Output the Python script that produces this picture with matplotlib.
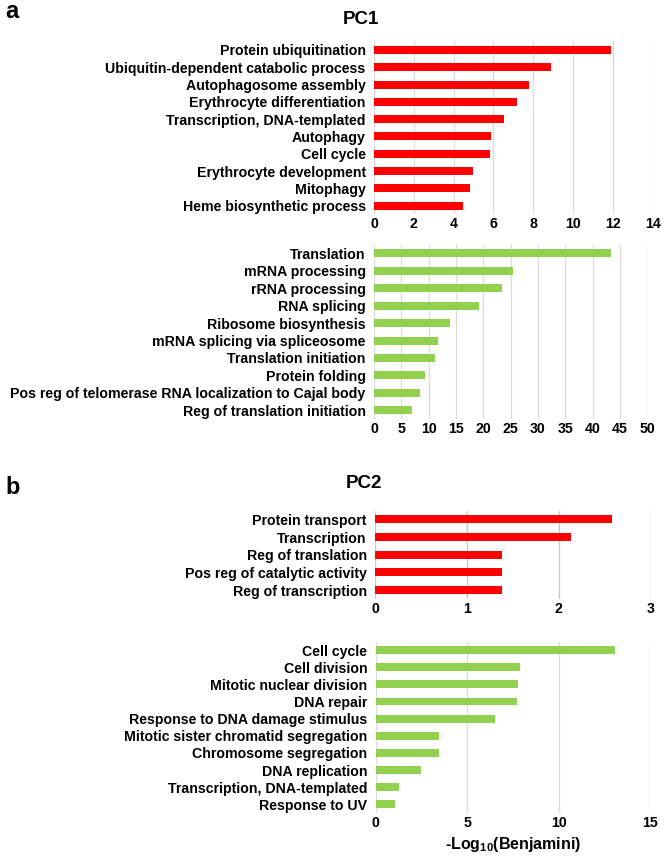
import matplotlib
matplotlib.use("Agg")
import matplotlib.pyplot as plt
import numpy as np

plt.rcParams["font.family"] = ["Liberation Sans", "DejaVu Sans"]
plt.rcParams["font.weight"] = "bold"
plt.rcParams["mathtext.fontset"] = "custom"
plt.rcParams["mathtext.rm"] = "Liberation Sans:bold"
plt.rcParams["mathtext.bf"] = "Liberation Sans:bold"

RED = "#FF0000"
GREEN = "#92D050"

pc1_up_terms = ["Protein ubiquitination", "Ubiquitin-dependent catabolic process",
                "Autophagosome assembly", "Erythrocyte differentiation",
                "Transcription, DNA-templated", "Autophagy", "Cell cycle",
                "Erythrocyte development", "Mitophagy", "Heme biosynthetic process"]
pc1_up_vals = [11.9, 8.9, 7.8, 7.2, 6.55, 5.9, 5.85, 4.95, 4.8, 4.45]

pc1_down_terms = ["Translation", "mRNA processing", "rRNA processing", "RNA splicing",
                  "Ribosome biosynthesis", "mRNA splicing via spliceosome",
                  "Translation initiation", "Protein folding",
                  "Pos reg of telomerase RNA localization to Cajal body",
                  "Reg of translation initiation"]
pc1_down_vals = [43.3, 25.4, 23.4, 19.2, 13.9, 11.7, 11.1, 9.3, 8.45, 6.95]

pc2_up_terms = ["Protein transport", "Transcription", "Reg of translation",
                "Pos reg of catalytic activity", "Reg of transcription"]
pc2_up_vals = [2.58, 2.13, 1.38, 1.38, 1.38]

pc2_down_terms = ["Cell cycle", "Cell division", "Mitotic nuclear division", "DNA repair",
                  "Response to DNA damage stimulus", "Mitotic sister chromatid segregation",
                  "Chromosome segregation", "DNA replication",
                  "Transcription, DNA-templated", "Response to UV"]
pc2_down_vals = [13.1, 7.9, 7.8, 7.75, 6.55, 3.45, 3.45, 2.45, 1.3, 1.08]

W, H = 666, 857
fig = plt.figure(figsize=(W / 100, H / 100), dpi=100)


def add_panel(box, terms, vals, color, ticks, grid_color="#DDDDDD"):
    x0, y0, x1, y1 = box
    ax = fig.add_axes([x0 / W, 1 - y1 / H, (x1 - x0) / W, (y1 - y0) / H])
    pos = np.arange(len(terms))
    ax.barh(pos, vals, height=0.46, color=color, zorder=3)
    ax.set_ylim(len(terms) - 0.5, -0.5)
    ax.set_xlim(ticks[0], ticks[-1])
    ax.set_xticks(ticks)
    ax.set_xticklabels([str(t) for t in ticks], fontsize=10.2, fontweight="bold")
    ax.set_yticks(pos)
    ax.set_yticklabels(terms, fontsize=10.2, fontweight="bold")
    ax.tick_params(length=0, axis="y", pad=6)
    ax.tick_params(length=0, axis="x", pad=2)
    for s in ax.spines.values():
        s.set_visible(False)
    ax.grid(axis="x", color=grid_color, linewidth=1, zorder=0)
    return ax


add_panel((374, 41.3, 652.7, 214.3), pc1_up_terms, pc1_up_vals, RED, list(range(0, 15, 2)))
add_panel((374, 244.6, 647.3, 419.0), pc1_down_terms, pc1_down_vals, GREEN, list(range(0, 51, 5)))
add_panel((375, 510.5, 650.7, 598.9), pc2_up_terms, pc2_up_vals, RED, [0, 1, 2, 3], grid_color="#C8C8C8")
ax4 = add_panel((375.7, 641.6, 650, 812.9), pc2_down_terms, pc2_down_vals, GREEN, [0, 5, 10, 15])
ax4.set_xlabel("-Log$_{10}$(Benjamini)", fontsize=11.5, fontweight="bold", labelpad=4)

fig.text(361 / W, 1 - 19.5 / H, "PC1", fontsize=13.5, fontweight="bold", ha="center", va="center")
fig.text(363.5 / W, 1 - 484 / H, "PC2", fontsize=13.5, fontweight="bold", ha="center", va="center")
fig.text(12 / W, 1 - 12 / H, "a", fontsize=17, fontweight="bold", ha="center", va="center")
fig.text(12.5 / W, 1 - 488 / H, "b", fontsize=17, fontweight="bold", ha="center", va="center")

fig.savefig("out.png", dpi=100, facecolor="white")
